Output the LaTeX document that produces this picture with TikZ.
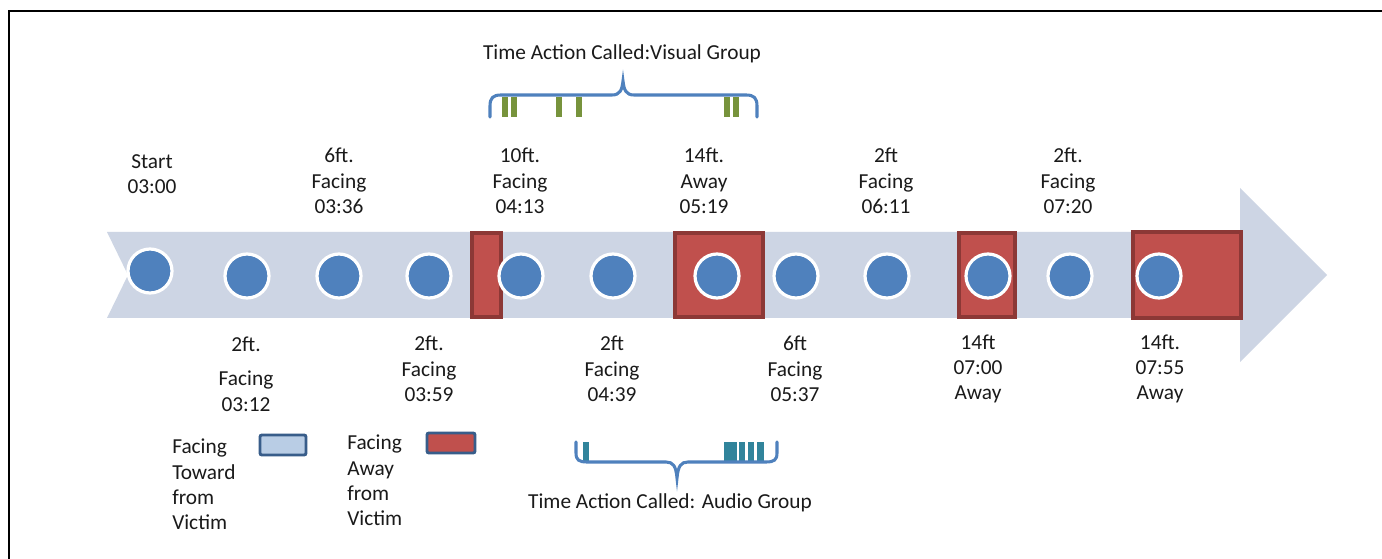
\documentclass[tikz,border=0pt]{standalone}
\usepackage{fontspec}
\setmainfont{Carlito}
\definecolor{arrowbg}{HTML}{CDD5E4}
\definecolor{dotblue}{HTML}{4F81BD}
\definecolor{awayred}{HTML}{C0504D}
\definecolor{awayedge}{HTML}{8C3836}
\definecolor{legblue}{HTML}{B9CDE5}
\definecolor{legedge}{HTML}{385D8A}
\definecolor{visgreen}{HTML}{77933C}
\definecolor{audteal}{HTML}{31849B}
\definecolor{txt}{HTML}{1A1A1A}
\begin{document}
\begin{tikzpicture}[x=0.75pt,y=-0.75pt,
  every node/.style={font=\fontsize{16}{19}\selectfont, text=txt, inner sep=0pt},
  dot/.style={circle, fill=dotblue, draw=white, line width=2.4pt, minimum size=44*0.75pt},
  awaybox/.style={fill=awayred, draw=awayedge, line width=2.4pt},
  lbl/.style={align=center},
  leg/.style={align=left, anchor=north west},
  brace/.style={draw=dotblue, line width=2.3pt, line cap=round},
  vbar/.style={fill=visgreen},
  abar/.style={fill=audteal}]
\useasboundingbox (0,0) rectangle (1382,559);
\fill[white] (0,0) rectangle (1382,559);
% frame
\draw[black, line width=1.5pt] (9,559) -- (9,11) -- (1382,11);
% big arrow
\fill[arrowbg] (107,232) -- (1240,232) -- (1240,188) -- (1327,275) -- (1240,362) -- (1240,318) -- (107,318) -- (128,275) -- cycle;
% away boxes
\draw[awaybox] (472,233) rectangle (501,317);
\draw[awaybox] (675,233) rectangle (763,317);
\draw[awaybox] (959,233) rectangle (1015,317);
\draw[awaybox] (1133,232) rectangle (1241,318);
% dots
\node[dot] (d1) at (150,271) {};
\node[dot] (d2) at (247,276) {};
\node[dot] (d3) at (339,276) {};
\node[dot] (d4) at (429,276) {};
\node[dot] (d5) at (521,276) {};
\node[dot] (d6) at (613,276) {};
\node[dot] (d7) at (717,276) {};
\node[dot] (d8) at (796,276) {};
\node[dot] (d9) at (887,276) {};
\node[dot] (d10) at (988,276) {};
\node[dot] (d11) at (1070,276) {};
\node[dot] (d12) at (1159,276) {};
% labels above
\node[lbl] (t1) at (152,174) {Start\\03:00};
\node[lbl] (t3) at (339,181) {6ft.\\Facing\\03:36};
\node[lbl] (t5) at (520,181) {10ft.\\Facing\\04:13};
\node[lbl] (t7) at (704,181) {14ft.\\Away\\05:19};
\node[lbl] (t9) at (886,181) {2ft\\Facing\\06:11};
\node[lbl] (t11) at (1068,181) {2ft.\\Facing\\07:20};
% labels below
\node[lbl] (b2) at (246,374) {2ft.\\[7pt]Facing\\03:12};
\node[lbl] (b4) at (429,369) {2ft.\\Facing\\03:59};
\node[lbl] (b6) at (612,369) {2ft\\Facing\\04:39};
\node[lbl] (b8) at (795,369) {6ft\\Facing\\05:37};
\node[lbl] (b10) at (978,369) {14ft\\07:00\\Away};
\node[lbl] (b12) at (1160,369) {14ft.\\07:55\\Away};
% legend
\node[leg] (leg1) at (172,439) {Facing\\Toward\\from\\Victim};
\draw[fill=legblue, draw=legedge, line width=2.2pt, rounded corners=1.5pt] (260,435) rectangle (306,455);
\node[leg] (leg2) at (347,435) {Facing\\Away\\from\\Victim};
\draw[fill=awayred, draw=legedge, line width=2.2pt, rounded corners=1.5pt] (427,433) rectangle (475,453);
% visual group
\node (vis) at (622,54) {Time Action Called:Visual Group};
\foreach \a/\b in {502/508,511/517,556/562,576/582,724/730,733/739}
  \fill[vbar] (\a,97) rectangle (\b,117);
\draw[brace] (490,117) -- (490,106) .. controls (490,98) and (493,95) .. (501,95) -- (612,95) .. controls (620,95) and (622,90) .. (623,81) .. controls (624,90) and (626,95) .. (634,95) -- (746,95) .. controls (754,95) and (757,98) .. (757,106) -- (757,117);
% audio group
\foreach \a/\b in {583/589,724/737,739/745,748/754,757/764}
  \fill[abar] (\a,442) rectangle (\b,461);
\draw[brace] (576,442) -- (576,453) .. controls (576,460) and (579,462) .. (587,462) -- (666,462) .. controls (673,462) and (676,466) .. (677,478) .. controls (678,466) and (681,462) .. (688,462) -- (766,462) .. controls (774,462) and (777,460) .. (777,453) -- (777,442);
\node (aud) at (670,503) {Time Action Called: Audio Group};
\end{tikzpicture}
\end{document}
